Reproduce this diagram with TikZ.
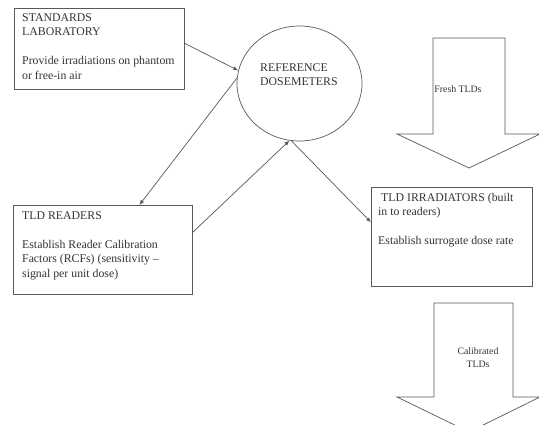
\documentclass[tikz,border=0pt]{standalone}
\usepackage{fontspec}
\setmainfont{Liberation Serif}
\usetikzlibrary{shapes.geometric,arrows.meta,calc}
\begin{document}
\begin{tikzpicture}[x=1pt,y=-1pt,
  ln/.style={draw=black!65,line width=0.7pt},
  boxnode/.style={ln,rectangle,inner sep=0pt,anchor=north west},
  txt/.style={text=black!80,inner sep=0pt,align=left,anchor=north west,
    font=\fontsize{11.8}{14.5}\selectfont},
  small/.style={txt,anchor=center,align=center,font=\fontsize{9.8}{12.5}\selectfont},
  conn/.style={ln,-{Latex[length=5pt,width=4pt]}}]
\useasboundingbox[fill=white] (0,0) rectangle (539,425);
% boxes
\node[boxnode,minimum width=170pt,minimum height=81pt] (std) at (14,8) {};
\node[boxnode,minimum width=179pt,minimum height=89pt] (readers) at (13,205) {};
\node[boxnode,minimum width=161pt,minimum height=99pt] (irr) at (371,187) {};
\node[ln,ellipse,inner sep=0pt,minimum width=125pt,minimum height=115pt] (ref) at (299.5,83.5) {};
% texts
\node[txt] (stdtxt) at (22,13.2) {STANDARDS\\LABORATORY\\[14.5pt]Provide irradiations on phantom\\or free-in air};
\node[txt] (readtxt) at (22,211) {TLD READERS\\[14.5pt]Establish Reader Calibration\\Factors (RCFs) (sensitivity --\\signal per unit dose)};
\node[txt] (irrtxt) at (378,193) {\hspace{3pt}TLD IRRADIATORS (built\\in to readers)\\[14.5pt]Establish surrogate dose rate};
\node[txt] (reftxt) at (260,63) {REFERENCE\\DOSEMETERS};
% block arrows
\draw[ln,fill=white] (433,38) -- (505,38) -- (505,134) -- (540,134) -- (469,168) -- (397,134) -- (433,134) -- cycle;
\node[small] (fresh) at (458,89) {Fresh TLDs};
\draw[ln,fill=white] (434,303) -- (513,303) -- (513,397) -- (540,397) -- (469,432) -- (397,397) -- (434,397) -- cycle;
\node[small] (calib) at (478,357.5) {Calibrated\\TLDs};
% connectors
\coordinate (s1) at ($(std.east)+(0,-5.5)$);
\draw[conn] (s1) -- (ref.168);
\coordinate (r2) at ($(readers.north)+(36.5,0)$);
\draw[conn] (ref.175) -- (r2);
\coordinate (r3) at ($(readers.east)+(0,-17.5)$);
\draw[conn] (r3) -- (ref.260);
\coordinate (i4) at ($(irr.west)+(0,-14.5)$);
\draw[conn] (ref.262) -- (i4);
\end{tikzpicture}
\end{document}
